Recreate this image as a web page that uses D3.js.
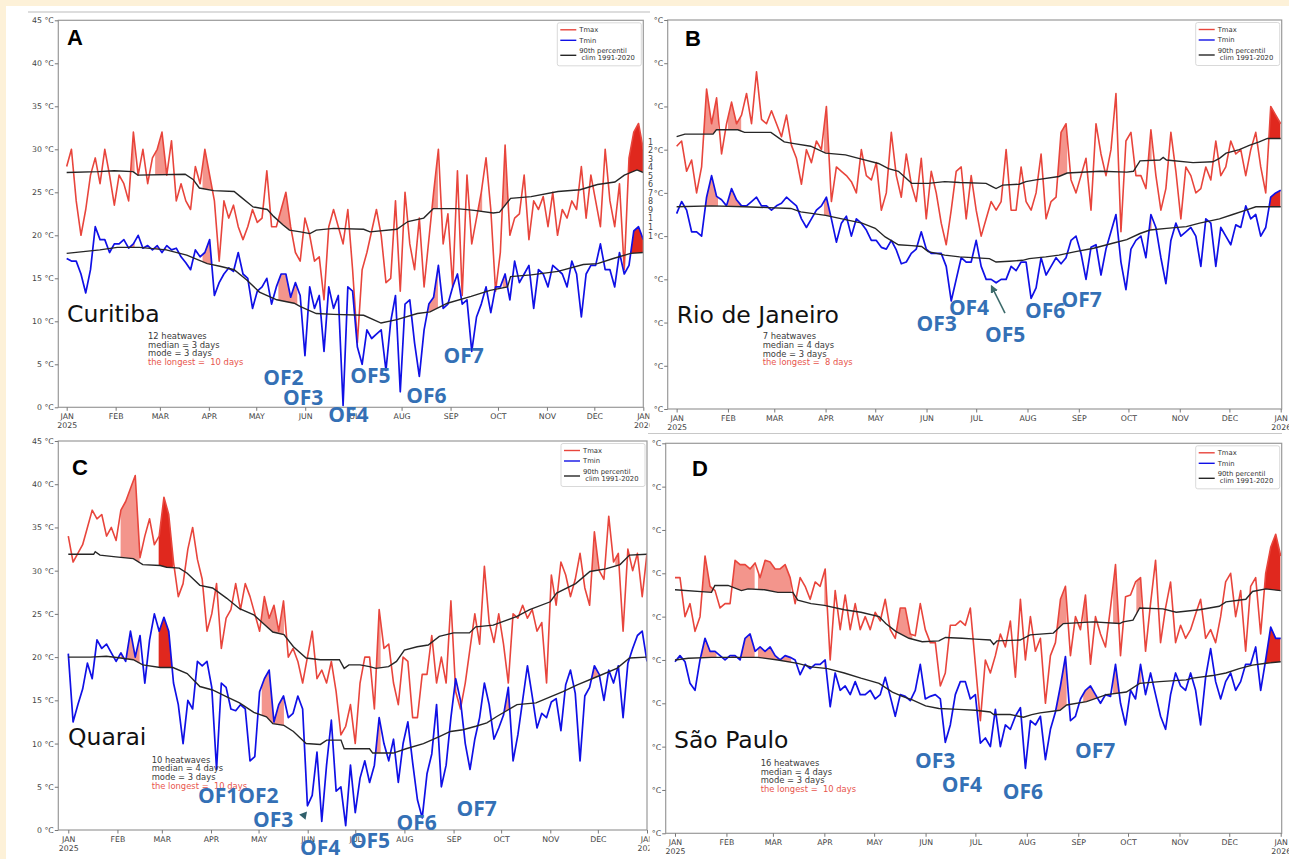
<!DOCTYPE html>
<html>
<head>
<meta charset="utf-8">
<script src="https://cdn.jsdelivr.net/npm/d3@7"></script>
<style>
  body { margin: 0; background: #fdf1d8; }
  svg { display: block; font-family: "DejaVu Sans", sans-serif; }
</style>
</head>
<body>
<div id="chart"></div>
<script>
// sample days (122 readings across the year)
var days = d3.range(122).map(function(i) { return i * 365 / 121; });
var monthStarts = [0, 31, 59, 90, 120, 151, 181, 212, 243, 273, 304, 334, 365];
var monthNames = ["JAN","FEB","MAR","APR","MAY","JUN","JUL","AUG","SEP","OCT","NOV","DEC","JAN"];
var yearNames = ["2025","","","","","","","","","","","","2026"];
var tempTicks = [0, 5, 10, 15, 20, 25, 30, 35, 40, 45];
var legendNames = ["Tmax", "Tmin", "90th percentil", " clim 1991-2020"];

// ---- Curitiba
var tmaxA = [28,30,24,20,23,27,29,26,30,27, 23.5,27,26,24,32,27,30,26,29,30,
  32,27,31,24,26,24,23,28,26,30, 27,24,17,24,22,23.5,21,19.5,21,23,
  21.5,22,27.5,21,21,23,25,21,18,17, 22,20,17,17.5,12.5,21,23,21,19,23,
  16,7.5,16,18,20.5,23,20,14.5,15,24, 13.5,25,19,16,22,14,19.5,25,30,19,
  22.5,14,27.5,13,27,19,22,25,29,23, 13.5,18,30.5,20,22,22.5,27,19.5,24,23,
  24.5,21,25,20,23,22,24,23,28,22, 27,24,21,30,24,21,26,16,29,32, 33,30];
var tminA = [17.3,17,17,15.5,13.3,16,21,19.5,19.5,18, 19,19,19.5,18.5,19,20,18.5,18.8,18.3,18.8,
  18,18.8,18.3,18.5,17.5,16.8,16,18.3,17.5,18, 19.5,13,14.5,15.5,16.2,15.8,18,15.5,15,11.5,
  13.5,14,15,12,14,15.5,15.5,12.8,14.5,13, 6,14,11.5,13,6.5,14,11.5,13,0.2,14,
  13.5,7,5,9,8,8.5,9,4.3,10,13, 1.8,12,12.5,7.5,3.6,9,12,12.8,16.5,11.5,
  12,14,15.5,12,12.5,6.5,10.5,12,14,11, 14,14,15.5,12.5,17,14.5,15.5,16.5,11.5,16,
  15.5,14,16.5,16,15.5,14,17,15.5,10.5,15.5, 16.5,16.5,19,16,16,14,18,15.5,16.5,20.5, 21,19.5];
var climMaxA = [[0,27.3],[20,27.4],[30,27.5],[42,27.4],[45,27.0],[75,27.1],[80,26.5],[84,25.5],[93,25.2],
  [106,25.1],[110,24.5],[118,23.3],[127,23],[131,22.2],[137,21.2],[141,20.6],[148,20.4],[154,20.2],
  [158,20.6],[169,20.8],[188,20.7],[192,20.4],[209,20.7],[216,21.6],[226,22],[232,23.1],[247,23.1],
  [258,22.9],[270,22.6],[274,22.7],[281,24.3],[294,24.5],[311,25.1],[325,25.3],[336,25.9],[347,26.2],
  [353,27],[361,27.6],[365,27.3]];
var climMinA = [[0,17.9],[21,18.3],[32,18.6],[46,18.6],[63,18.3],[76,17.7],[89,16.7],[97,16.4],[106,16],
  [114,14.8],[122,13.4],[133,12.5],[144,12.1],[148,11.7],[158,10.9],[169,10.8],[188,10.7],[199,9.8],
  [209,10.2],[222,10.9],[230,11.1],[241,12.1],[256,12.9],[268,13.6],[279,14],[281,15.2],[294,15.4],
  [311,15.8],[327,16.6],[336,16.7],[346,17.3],[357,17.9],[365,18]];
var wavesA = [[39,43],[56,63],[86,93],[134,146],[229,235],[259,263],[276,280],[303,307]];
var longestA = [352,365];
var statsA = ["12 heatwaves", "median = 3 days", "mode = 3 days", "the longest =  10 days"];
var ofA = [["OF2",124.4,2.6],["OF3",137,0.3],["OF4",165.6,-1.7],["OF5",179.5,2.8],["OF6",215,0.5],["OF7",238.5,5.2]];

// ---- Rio de Janeiro
var tmaxB = [30.4,31,27.5,28.8,25,28,37,33,36,29.5, 33,35.5,33,34,36.5,33,39,33.5,33,34.5,
  33,31.5,34,30.5,29,26,30,28.5,31,30, 35,24,28,27.5,27,26.3,25,30,27,26.5,
  28.5,23,25,32,27,24.5,29.5,26,24,29, 22,27.5,25,21.5,19,23,27.5,28,22,27,
  23,20,22,24,23,24,30,23,23,28, 24,23,25,29.5,22,24,24.5,32,33,26.5,
  25,27,29,23,33,29.5,27,30,36.5,20.5, 31,32,27,27,25.5,32.3,27,23,25.5,32,
  27.5,22,28,27,25,25.5,28,26.5,31,27, 28,31,29.5,30,27,30,32,28,25,35, 34,33];
var tminB = [22.6,24,23,20.5,20.5,20,24.5,27,24.6,24.2, 23.5,25.5,24.2,23.5,23.5,24,24.5,23.5,23.5,23,
  23.5,23.8,24.5,24,23.5,22,21,22,23,23.5, 24.5,22,19.3,21.5,22.3,20,22,21.5,20.7,19.5,
  19.5,18.7,18.5,19.5,18.4,16.8,17,18,18.5,20.5, 18.5,18,18,18,16.5,12.5,15,17.5,17,17,
  19.5,16.5,15,15,14.6,15,15,16.5,16,17, 17,12.8,14,17.5,15.5,16.5,17.5,16.8,17.5,19.5,
  20,18,15,18.7,19,15.5,18.5,20.5,22.5,17, 13.8,18.5,19.5,20,17.5,22.5,21,17.5,14.5,19.5,
  21.5,20,20.5,21,20,16.5,22,21.5,16.5,21, 20,19,21.3,21,23.5,22,22.5,20,21,24.5, 25,25.3];
var climMaxB = [[0,31.5],[5,31.8],[22,31.8],[24,32.3],[37,32.3],[41,32],[57,32],[65,30.9],[71,30.7],
  [81,30.4],[90,29.6],[102,29.4],[110,29],[122,28.4],[128,27.8],[134,27.5],[142,26.1],[152,26.1],
  [162,26.3],[171,26.2],[187,26.1],[191,25.7],[193,25.5],[197,25.9],[207,26],[211,26.3],[217,26.5],
  [231,26.9],[236,27.3],[256,27.5],[272,27.4],[276,27.5],[280,28.7],[292,28.8],[294,29.1],[296,28.8],
  [312,28.5],[324,28.6],[328,29],[332,29.6],[340,30],[346,30.5],[352,30.9],[357,31.3],[365,31.3]];
var climMinB = [[0,23.4],[21,23.5],[41,23.4],[69,23.2],[75,22.8],[90,22.4],[102,21.9],[112,21.5],
  [120,20.9],[126,19.9],[134,19],[142,18.9],[148,18.8],[152,18.2],[162,17.8],[171,17.6],[189,17.4],
  [193,17],[201,17.1],[209,17.2],[213,17.4],[223,17.6],[231,17.8],[241,18.2],[252,18.6],[264,19.2],
  [272,19.6],[280,20.3],[286,20.7],[296,20.9],[308,21.1],[316,21.5],[328,22],[336,22.5],[344,23],
  [350,23.4],[365,23.4]];
var wavesB = [[16,25],[31,39],[89,95],[230,236],[283,287]];
var longestB = [356,365];
var statsB = ["7 heatwaves", "median = 4 days", "mode = 3 days", "the longest =  8 days"];
var ofB = [["OF3",145,9],["OF4",164.5,10.9],["OF5",186.3,7.8],["OF6",210.5,10.5],["OF7",232.6,11.8]];
var arrowB = [[198.4,11.1],[190.3,14.2]];
var strayDigits = ["1","2","3","4","5","6","7","8","9","1","1","1"];

// ---- Quarai
var tmaxC = [34,31,32,33,35,37,36,36.5,34,35, 33.5,37,38,39.5,41,31.5,34,36,33,34,
  38.5,36.5,31,27,28.5,32.5,35,31.3,29,23, 25,28.5,21,24.5,25.5,28.5,25.5,28.5,27,25,
  23,27,24.5,26,23,26.5,20,21,19.5,17, 20,23,17.5,18.5,17,19.5,16,11,12,14.5,
  10,17,20,20,14,25.5,21,21.5,17,14.5, 20,19.5,13,13,18,18,22.5,17,20,17,
  26.5,16,14,17,21,25,21.5,30.5,24,21.7, 25,21.5,17,25,24.5,26,24.5,25.5,23,24,
  17,29.5,26,31,29.5,27,29,32,28,26, 34.5,30,29,36.3,31,32,23,32.5,30,32, 27,32];
var tminC = [20.4,12.5,14.5,16.3,19.3,17.5,22,21,21.5,20.5, 19.5,20.5,19.5,23,20,22.5,17,22,25,23,
  24.6,23,17,14.5,10,15,14,19.5,19,19.5, 16.5,7,17,16.5,14,13.8,14.5,14,8,8.5,
  16,17.5,18.5,12.5,14.5,15.5,13,13.5,15.5,14, 2.8,4,9,1,7.5,12.7,4.5,5,0.5,7.5,
  2,6,8,5.5,7.5,13,10,8,10.5,5.5, 10,12.5,7.8,3.5,1.4,6.5,8.8,14.5,5,7.5,
  13,17.5,15,10,7,10.5,13,17,14.5,10.5, 11.8,13.3,16.5,8,11,15,19,15.5,11.8,13.5,
  13,14.8,15.2,11.5,16.8,18.5,15.8,8,15.5,16.5, 19,18,15,18.5,17,19,13,19.3,21,22.5, 23,19.5];
var climMaxC = [[0,31.9],[16,31.9],[17,32.2],[20,31.8],[30,31.6],[41,31.4],[47,30.7],[58,30.6],[62,30.4],
  [70,30.3],[75,29.7],[83,28.3],[91,28],[100,26.8],[108,25.6],[117,24.9],[123,23.9],[129,22.9],
  [136,22.6],[142,21.2],[150,19.9],[159,19.7],[171,19.7],[174,18.7],[177,19.1],[184,19.1],[190,18.9],
  [194,18.7],[202,18.9],[207,19.5],[212,20.8],[220,21.2],[227,21.4],[234,22.4],[243,22.8],[253,22.8],
  [257,23.5],[268,23.7],[274,24.1],[283,24.7],[291,25.5],[304,26.4],[308,27.4],[320,28.5],[329,29.9],
  [339,30.2],[348,30.7],[354,31.8],[365,31.9]];
var climMinC = [[0,20],[14,20],[24,20.1],[33,19.9],[41,19.7],[47,19.1],[58,18.8],[66,18.8],[75,18.1],
  [83,16.6],[91,16.2],[100,15.4],[108,14.7],[117,13.6],[125,13.1],[129,12.3],[136,12.1],[142,11.4],
  [150,10],[159,9.9],[163,10.4],[172,10.4],[174,9.4],[190,9.4],[192,8.9],[205,8.9],[213,9.4],
  [224,10],[234,10.8],[241,11.4],[249,11.6],[257,12],[264,12.4],[270,13.1],[283,14.5],[295,14.7],
  [304,15.4],[312,16],[321,16.8],[333,17.7],[346,18.7],[354,19.9],[365,20]];
var wavesC = [[33,45],[91,96],[122,136],[191,197],[273,279],[328,334],[345,350]];
var longestC = [57,66];
var statsC = ["10 heatwaves", "median = 4 days", "mode = 3 days", "the longest =  10 days"];
var ofC = [["OF1OF2",81.8,3.1],["OF3",116.5,0.4],["OF4",146.1,-2.9],["OF5",177.6,-2.1],["OF6",207,0],["OF7",244.9,1.6]];
var markC = [148.6, 1.7];

// ---- São Paulo
var tmaxD = [29.5,29.5,25,26.5,23.3,25,32,28.5,28,26, 26.5,26.5,31.5,31,31,30.5,31.2,29.5,31.5,31.3,
  30.5,30.5,31,29.5,26.5,29.5,28.5,27,29,28.5, 30.5,20,28,23.5,27.5,23.5,26.5,23.5,25,23.5,
  25.5,24.5,27,23.5,22.5,26,26,23,22.8,26.5, 23.5,22,22,17,18.5,24,24,24.5,24,26,
  19.5,13,20,18.5,20.5,23,21.5,24.5,18,27, 20,25,21,22.5,15,20.5,22,27,28.5,20.5,
  25,23.5,27.5,19.5,25,23,21.5,26,31,20.5, 27.3,27.5,29,29.5,21,26.5,31.5,22,26,29,
  22,24,22.5,23.5,25.3,27,22.5,23.5,22,25, 29,30,25,28,21,28.5,29.5,23,30,33, 34.5,32];
var tminD = [19.8,20.5,19.8,17.3,16.5,20,22.5,21,21,20.5, 20,20.5,20.5,20,22.5,23,21,21.5,21,21.5,
  20.5,20,20.5,20.3,20,18.3,19.5,19,19.5,19.5, 20,14.6,18.5,16.5,17,16,17.5,16,16,16.5,
  15.5,16,18,15.8,13.5,16,15.8,15.3,16.5,19.5, 15.5,15.8,16,15.5,10.5,12.5,16,17.5,17.5,15.5,
  16,10.4,11,10,14.3,10,12.5,12,13.5,14.5, 7.5,13,12.5,13.5,8.5,12,14,17,20.4,13,
  13.5,15.5,16.5,17,16,15,16,15.8,19.5,15, 12.5,16.5,15.5,19.5,16,18.5,16,13.5,12,16,
  18.5,17,16.5,18.5,16.5,12.5,18,21.3,17.5,15.5, 17.5,18.5,16.5,17.5,19.5,19.5,21.5,16.5,20,23.8, 22.5,22.5];
var climMaxD = [[0,28.1],[22,27.8],[24,28.6],[32,28.6],[40,28],[44,28.2],[54,28.1],[62,27.8],[71,27.8],
  [74,26.9],[82,26.5],[90,26.3],[102,25.8],[112,25.5],[123,25],[127,24.2],[133,23.3],[141,22.5],
  [149,22.1],[159,22.2],[163,22.6],[173,22.5],[181,22.4],[190,22.3],[192,21.8],[194,22.2],[208,22.3],
  [214,22.9],[228,23.1],[234,24.2],[252,24.4],[268,24.2],[270,24.4],[276,24.6],[280,26],[294,25.9],
  [302,25.5],[316,25.8],[328,26.2],[332,26.7],[344,27],[348,27.9],[356,28.2],[365,28]];
var climMinD = [[0,20],[8,20.2],[22,20.3],[50,20.3],[62,20],[74,19.6],[82,19.2],[92,19],[102,18.5],
  [112,17.9],[123,17.3],[131,16.3],[137,15.8],[143,15.4],[151,14.7],[159,14.4],[171,14.3],[181,14.2],
  [190,14],[192,13.7],[202,13.7],[210,13.4],[215,13.7],[220,13.9],[232,14.2],[236,14.8],[248,15.2],
  [260,16],[272,16.3],[280,17.3],[292,17.5],[308,17.7],[312,17.9],[324,18.2],[332,18.5],[340,19],
  [348,19.4],[355,19.6],[365,19.8]];
var wavesD = [[16,25],[34,48],[50,70],[90,94],[130,143],[230,236],[246,256],[264,268],[278,281]];
var longestD = [354,365];
var statsD = ["16 heatwaves", "median = 4 days", "mode = 3 days", "the longest =  10 days"];
var ofD = [["OF3",144.6,7.5],["OF4",160.7,4.8],["OF6",197.5,4],["OF7",241,8.7]];

// colours
var red = "#e8453c", blue = "#1010e6", black = "#262626";
var lightFill = "#f3958c", darkFill = "#e0281e", ofBlue = "#3470b5";

var svg = d3.select("#chart").append("svg")
    .attr("width", 1289)
    .attr("height", 859);
var defs = svg.append("defs");

defs.append("marker").attr("id", "arrowHead")
    .attr("viewBox", "0 0 10 10").attr("refX", 8).attr("refY", 5)
    .attr("markerWidth", 5).attr("markerHeight", 5).attr("orient", "auto")
  .append("path").attr("d", "M0,0L10,5L0,10z").attr("fill", "#3d6b6b");

// white sheet on the cream page
svg.append("rect").attr("x", 6).attr("y", 6).attr("width", 1283).attr("height", 853).attr("fill", "#fff");

var panels = [
  {key: "A", left: 58.3, right: 643.3, top: 20.3, bottom: 407.3, xDomain: [-5.3, 365], nums: true,
   name: "Curitiba", letterPos: [8.7, 24.5], namePos: [8.7, 301.5], statsPos: [89.7, 318.7],
   tmax: tmaxA, tmin: tminA, climMax: climMaxA, climMin: climMinA, waves: wavesA, longest: longestA,
   stats: statsA, labels: ofA},
  {key: "C", left: 58.3, right: 647, top: 441, bottom: 830, xDomain: [-6.3, 365], nums: true,
   name: "Quarai", letterPos: [13.7, 34], namePos: [9.7, 304], statsPos: [93.4, 321.7],
   tmax: tmaxC, tmin: tminC, climMax: climMaxC, climMin: climMinC, waves: wavesC, longest: longestC,
   stats: statsC, labels: ofC},
  {key: "B", left: 667.7, right: 1281.7, top: 20, bottom: 409, xDomain: [-5.4, 365.6], nums: false,
   bg: [649.5, 14, 640, 416],
   name: "Rio de Janeiro", letterPos: [17.3, 26], namePos: [9, 303.3], statsPos: [95, 319.3],
   tmax: tmaxB, tmin: tminB, climMax: climMaxB, climMin: climMinB, waves: wavesB, longest: longestB,
   stats: statsB, labels: ofB},
  {key: "D", left: 665.7, right: 1281.7, top: 443.3, bottom: 833.3, xDomain: [-5.6, 365.6], nums: false,
   bg: [649.5, 431, 640, 428],
   name: "São Paulo", letterPos: [26.3, 32.4], namePos: [8.3, 304.7], statsPos: [95, 322.7],
   tmax: tmaxD, tmin: tminD, climMax: climMaxD, climMin: climMinD, waves: wavesD, longest: longestD,
   stats: statsD, labels: ofD}
];

// faint rule above panel A
svg.append("line").attr("x1", 28).attr("x2", 650).attr("y1", 12).attr("y2", 12)
    .attr("stroke", "#bbb").attr("stroke-width", 1.2);

panels.forEach(function(p) {
  var k = p.key;
  if (p.bg) {
    svg.append("rect").attr("x", p.bg[0]).attr("y", p.bg[1]).attr("width", p.bg[2]).attr("height", p.bg[3])
        .attr("fill", "#fff");
  }
  if (k === "D") {
    svg.append("line").attr("x1", 648).attr("x2", 1282).attr("y1", 433.5).attr("y2", 433.5)
        .attr("stroke", "#c8c8c8").attr("stroke-width", 1.2);
  }

  var x = d3.scaleLinear().domain(p.xDomain).range([p.left, p.right]);
  var y = d3.scaleLinear().domain([0, 45]).range([p.bottom, p.top]);
  var g = svg.append("g");

  // clip paths
  defs.append("clipPath").attr("id", "plot" + k).append("rect")
      .attr("x", p.left).attr("y", p.top).attr("width", p.right - p.left).attr("height", p.bottom - p.top);
  var aboveClim = d3.area().x(function(d) { return x(d[0]); }).y0(p.top).y1(function(d) { return y(d[1]); });
  defs.append("clipPath").attr("id", "aboveMax" + k).append("path").attr("d", aboveClim(p.climMax));
  defs.append("clipPath").attr("id", "aboveMin" + k).append("path").attr("d", aboveClim(p.climMin));
  defs.append("clipPath").attr("id", "waves" + k).selectAll("rect")
      .data(p.waves).enter().append("rect")
        .attr("x", function(d) { return x(d[0]); })
        .attr("width", function(d) { return x(d[1]) - x(d[0]); })
        .attr("y", p.top).attr("height", p.bottom - p.top);
  defs.append("clipPath").attr("id", "longest" + k).append("rect")
      .attr("x", x(p.longest[0])).attr("width", x(p.longest[1]) - x(p.longest[0]))
      .attr("y", p.top).attr("height", p.bottom - p.top);

  var under = d3.area()
      .x(function(d, i) { return x(days[i]); })
      .y0(p.bottom)
      .y1(function(d) { return y(d); });

  // heatwave fills: under the series and above the 90th percentile
  [["waves", lightFill], ["longest", darkFill]].forEach(function(f) {
    var fg = g.append("g").attr("clip-path", "url(#" + f[0] + k + ")");
    fg.append("g").attr("clip-path", "url(#aboveMax" + k + ")")
      .append("path").attr("d", under(p.tmax)).attr("fill", f[1]);
    fg.append("g").attr("clip-path", "url(#aboveMin" + k + ")")
      .append("path").attr("d", under(p.tmin)).attr("fill", f[1]);
  });

  var plot = g.append("g").attr("clip-path", "url(#plot" + k + ")");
  var line = d3.line()
      .x(function(d, i) { return x(days[i]); })
      .y(function(d) { return y(d); });
  var climLine = d3.line()
      .x(function(d) { return x(d[0]); })
      .y(function(d) { return y(d[1]); });

  plot.append("path").attr("d", line(p.tmax)).attr("fill", "none")
      .attr("stroke", red).attr("stroke-width", 1.6).attr("stroke-linejoin", "round");
  plot.append("path").attr("d", line(p.tmin)).attr("fill", "none")
      .attr("stroke", blue).attr("stroke-width", 1.7).attr("stroke-linejoin", "round");
  plot.append("path").attr("d", climLine(p.climMax)).attr("fill", "none")
      .attr("stroke", black).attr("stroke-width", 1.4);
  plot.append("path").attr("d", climLine(p.climMin)).attr("fill", "none")
      .attr("stroke", black).attr("stroke-width", 1.4);

  // frame
  g.append("rect").attr("x", p.left).attr("y", p.top)
      .attr("width", p.right - p.left).attr("height", p.bottom - p.top)
      .attr("fill", "none").attr("stroke", "#9a9a9a").attr("stroke-width", 1.2);

  // axes
  var yAxis = g.append("g").attr("transform", "translate(" + p.left + ",0)")
      .call(d3.axisLeft(y).tickValues(tempTicks).tickSize(3.5)
        .tickFormat(function(d) { return p.nums ? d + " °C" : "°C"; }));
  var xAxis = g.append("g").attr("transform", "translate(0," + p.bottom + ")")
      .call(d3.axisBottom(x).tickValues(monthStarts).tickSize(3.5)
        .tickFormat(function(d, i) { return monthNames[i]; }));
  [yAxis, xAxis].forEach(function(ax) {
    ax.select(".domain").remove();
    ax.selectAll(".tick line").attr("stroke", "#777");
    ax.selectAll(".tick text").attr("fill", "#444").style("font-size", "7.8px")
      .style("font-family", "DejaVu Sans");
  });
  yAxis.selectAll(".tick text").attr("x", -4.5);
  xAxis.selectAll(".tick text").attr("y", 6.5).each(function(d, i) {
    if (yearNames[i]) {
      d3.select(this).append("tspan").attr("x", 0).attr("dy", "1.15em").text(yearNames[i]);
    }
  });

  // legend
  var lg = g.append("g").attr("transform", "translate(" + (p.right - 86) + "," + (p.top + 2.5) + ")");
  lg.append("rect").attr("width", 84).attr("height", 43).attr("rx", 2)
      .attr("fill", "#fff").attr("stroke", "#cfcfcf").attr("stroke-width", 0.8);
  var legendColors = [red, blue, black];
  var legendY = [7, 17.5, 32.5];
  legendColors.forEach(function(c, i) {
    lg.append("line").attr("x1", 3).attr("x2", 19).attr("y1", legendY[i]).attr("y2", legendY[i])
        .attr("stroke", c).attr("stroke-width", 1.4);
  });
  var legendTextY = [9.3, 19.8, 30, 37.5];
  legendNames.forEach(function(t, i) {
    lg.append("text").attr("x", 22).attr("y", legendTextY[i]).text(t)
        .attr("fill", "#333").style("font-size", "6.8px").style("white-space", "pre");
  });

  // panel letter, station name, statistics
  g.append("text").attr("x", p.left + p.letterPos[0]).attr("y", p.top + p.letterPos[1])
      .text(k).style("font-family", "Liberation Sans, Arial, sans-serif")
      .style("font-weight", "bold").style("font-size", "22px").attr("fill", "#000");
  g.append("text").attr("x", p.left + p.namePos[0]).attr("y", p.top + p.namePos[1])
      .text(p.name).style("font-size", "23.5px").attr("fill", "#111");
  p.stats.forEach(function(t, i) {
    g.append("text").attr("x", p.left + p.statsPos[0]).attr("y", p.top + p.statsPos[1] + i * 8.6)
        .text(t).style("font-size", "8.4px").style("white-space", "pre")
        .attr("fill", i === 3 ? "#e8554c" : "#3a3a3a");
  });

  // OF annotations
  g.selectAll("text.of").data(p.labels).enter().append("text")
      .attr("class", "of")
      .attr("x", function(d) { return x(d[1]); })
      .attr("y", function(d) { return y(d[2]); })
      .text(function(d) { return d[0]; })
      .style("font-family", "Open Sans, sans-serif").style("font-weight", "bold")
      .style("font-size", "21px").attr("fill", ofBlue);

  if (k === "B") {
    g.append("line")
        .attr("x1", x(arrowB[0][0])).attr("y1", y(arrowB[0][1]))
        .attr("x2", x(arrowB[1][0])).attr("y2", y(arrowB[1][1]))
        .attr("stroke", "#3d6b6b").attr("stroke-width", 1.6).attr("marker-end", "url(#arrowHead)");
    g.selectAll("text.stray").data(strayDigits).enter().append("text")
        .attr("class", "stray")
        .attr("x", 648).attr("y", function(d, i) { return 144.5 + i * 8.55; })
        .text(function(d) { return d; })
        .style("font-size", "8px").attr("fill", "#444");
  }
  if (k === "C") {
    g.append("path")
        .attr("d", d3.symbol().type(d3.symbolTriangle).size(30)())
        .attr("transform", "translate(" + x(markC[0]) + "," + y(markC[1]) + ") rotate(-80)")
        .attr("fill", "#2f5f6b");
  }
});
</script>
</body>
</html>
